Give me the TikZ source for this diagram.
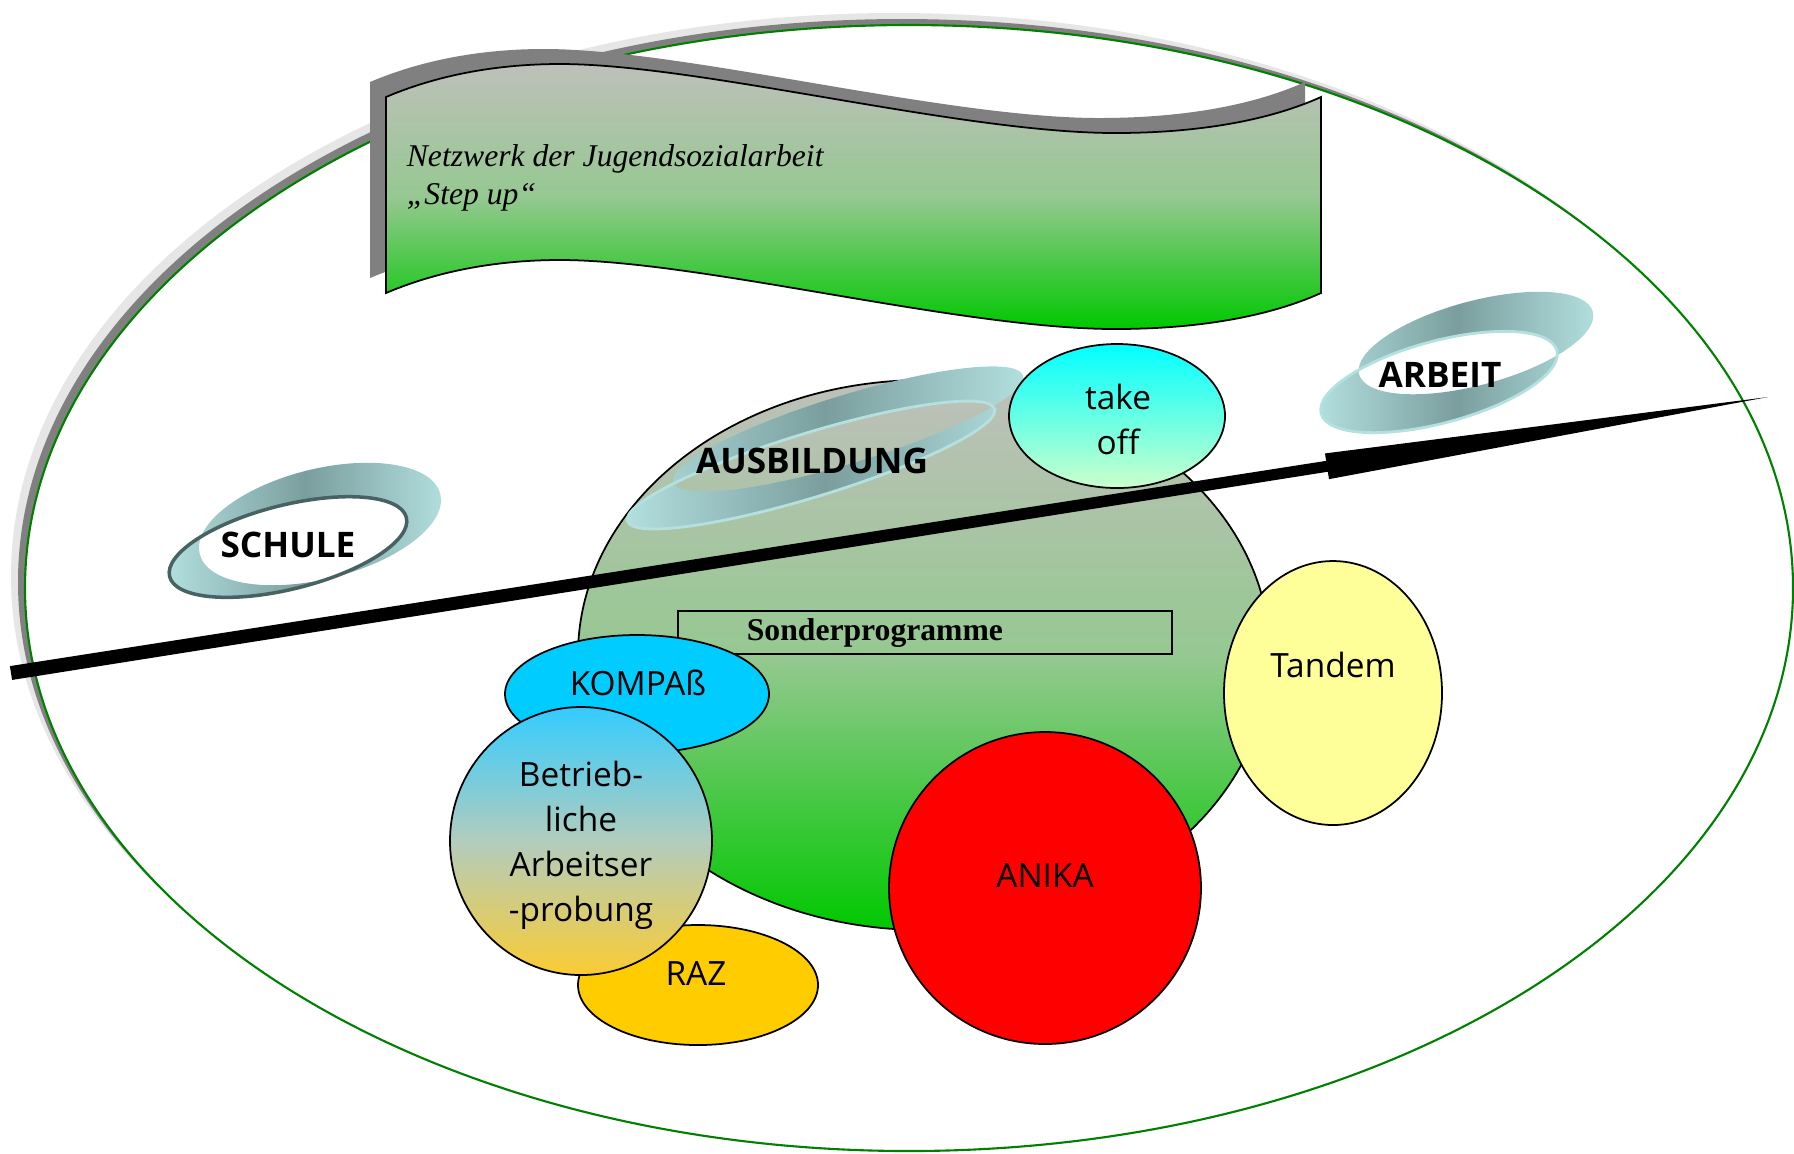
\documentclass[tikz,border=0pt]{standalone}
\usepackage{fontspec}
\setmainfont{Liberation Serif}
\newfontfamily\comicfont{Open Sans}
\usetikzlibrary{calc}

\definecolor{silver}{RGB}{190,192,186}
\definecolor{midgreen}{RGB}{150,200,145}
\definecolor{grassgreen}{RGB}{0,200,0}
\definecolor{rimgreen}{RGB}{0,128,0}
\definecolor{shadowlight}{RGB}{230,230,230}
\definecolor{shadowdark}{RGB}{128,128,128}
\definecolor{ringteal}{RGB}{122,158,158}
\definecolor{ringlight}{RGB}{180,224,224}
\definecolor{ringedge}{RGB}{72,98,98}
\definecolor{kompasblue}{RGB}{0,204,255}
\definecolor{razgold}{RGB}{255,204,0}
\definecolor{tandemyellow}{RGB}{255,255,153}
\definecolor{betrtop}{RGB}{51,204,255}
\definecolor{betrmid}{RGB}{178,204,190}
\definecolor{betrbottom}{RGB}{250,204,51}
\definecolor{takeofftop}{RGB}{0,255,255}
\definecolor{takeoffbottom}{RGB}{204,255,204}

\newcommand{\flagpath}{(386,97) .. controls (440,74) and (500,64) .. (560,64) .. controls (700,64) and (960,133) .. (1115,133) .. controls (1200,133) and (1270,120) .. (1321,97) -- (1321,293) .. controls (1270,316) and (1200,329) .. (1115,329) .. controls (960,329) and (700,260) .. (560,260) .. controls (500,260) and (440,270) .. (386,293) -- cycle}

\tikzset{
  lbl/.style={font=\comicfont\fontsize{9.5}{12.8}\selectfont, inner sep=0pt, text=black, align=center},
  ringlbl/.style={font=\comicfont\bfseries\fontsize{10}{12}\selectfont, inner sep=0pt, text=black},
  ring/.style={even odd rule, left color=ringlight, right color=ringlight, middle color=ringteal},
  greenfade/.style={top color=silver, bottom color=grassgreen, middle color=midgreen}
}

\begin{document}
\begin{tikzpicture}[x=0.01cm, y=-0.01cm, line width=0.5pt]
\useasboundingbox (0,0) rectangle (1794,1153);
% outer field with shadow
\fill[shadowlight] (895,576) ellipse [x radius=884, y radius=563];
\fill[shadowdark] (902,582) ellipse [x radius=884, y radius=563];
\draw[rimgreen, fill=white, line width=0.6pt] (909,588) ellipse [x radius=884, y radius=563];

% banner
\fill[shadowdark, shift={(-16,-15)}] \flagpath;
\shadedraw[greenfade] \flagpath;
\node[anchor=base west, inner sep=0pt, font=\itshape\fontsize{9}{11}\selectfont] (netzwerk) at (406,166) {Netzwerk der Jugendsozialarbeit};
\node[anchor=base west, inner sep=0pt, font=\itshape\fontsize{9}{11}\selectfont] (stepup) at (406,204) {„Step up“};

% Sonderprogramme
\shadedraw[greenfade] (924,655) ellipse [x radius=346, y radius=275];
\draw[line width=0.6pt] (678,611) rectangle (1172,654);
\node[anchor=west, inner sep=0pt, font=\bfseries\fontsize{9}{11}\selectfont] (sonder) at (746,633) {Sonderprogramme};

% rings
\begin{scope}[rotate around={14:(288,547)}]
  \shade[ring] (288,547) ellipse [x radius=122, y radius=42] (324.6,532.4) ellipse [x radius=124, y radius=55];
  \draw[ringedge, line width=1pt] (288,547) ellipse [x radius=122, y radius=42];
\end{scope}
\node[ringlbl] (schule) at (288,545) {SCHULE};

\begin{scope}[rotate around={17:(811,465)}]
  \shade[ring] (811,465) ellipse [x radius=192, y radius=32] (856.9,441.4) ellipse [x radius=183, y radius=34];
  \draw[ringlight, line width=0.8pt] (811,465) ellipse [x radius=192, y radius=32];
\end{scope}
\node[ringlbl] (ausbildung) at (812,461) {AUSBILDUNG};

\begin{scope}[rotate around={15:(1439,382)}]
  \shade[ring] (1439,382) ellipse [x radius=122, y radius=41] (1484.8,353.9) ellipse [x radius=121, y radius=42];
  \draw[ringlight, line width=0.8pt] (1439,382) ellipse [x radius=122, y radius=41];
\end{scope}
\node[ringlbl] (arbeit) at (1440,375) {ARBEIT};

% long arrow
\coordinate (tail) at (11,673);
\coordinate (tip) at (1768,397);
\coordinate (neck) at ($(tail)!0.749!(tip)$);
\fill ($(tail)!0.07cm!90:(tip)$) -- ($(neck)!0.055cm!90:(tip)$) -- ($(neck)!0.13cm!90:(tip)$) -- (tip)
  -- ($(neck)!0.13cm!-90:(tip)$) -- ($(neck)!0.055cm!-90:(tip)$) -- ($(tail)!0.07cm!-90:(tip)$) -- cycle;

% programmes
\shadedraw[top color=takeofftop, bottom color=takeoffbottom] (1117,416) ellipse [x radius=108, y radius=72] (1118,419) node[lbl] (takeoff) {take\\off};
\draw[fill=tandemyellow] (1333,693) ellipse [x radius=109, y radius=132] (1333,665) node[lbl] (tandem) {Tandem};
\draw[fill=red] (1045,888) circle [radius=156] (1045,875) node[lbl] (anika) {ANIKA};
\draw[fill=kompasblue] (637,694) ellipse [x radius=132, y radius=59] (638,683) node[lbl] (kompass) {KOMPAß};
\draw[fill=razgold] (698,985) ellipse [x radius=120, y radius=60] (696,973) node[lbl] (raz) {RAZ};
\shadedraw[top color=betrtop, bottom color=betrbottom, middle color=betrmid] (581,841) ellipse [x radius=131, y radius=134] (581,845) node[lbl] (betrieb) {Betrieb-\\liche\\Arbeitser\\-probung};
\end{tikzpicture}
\end{document}
